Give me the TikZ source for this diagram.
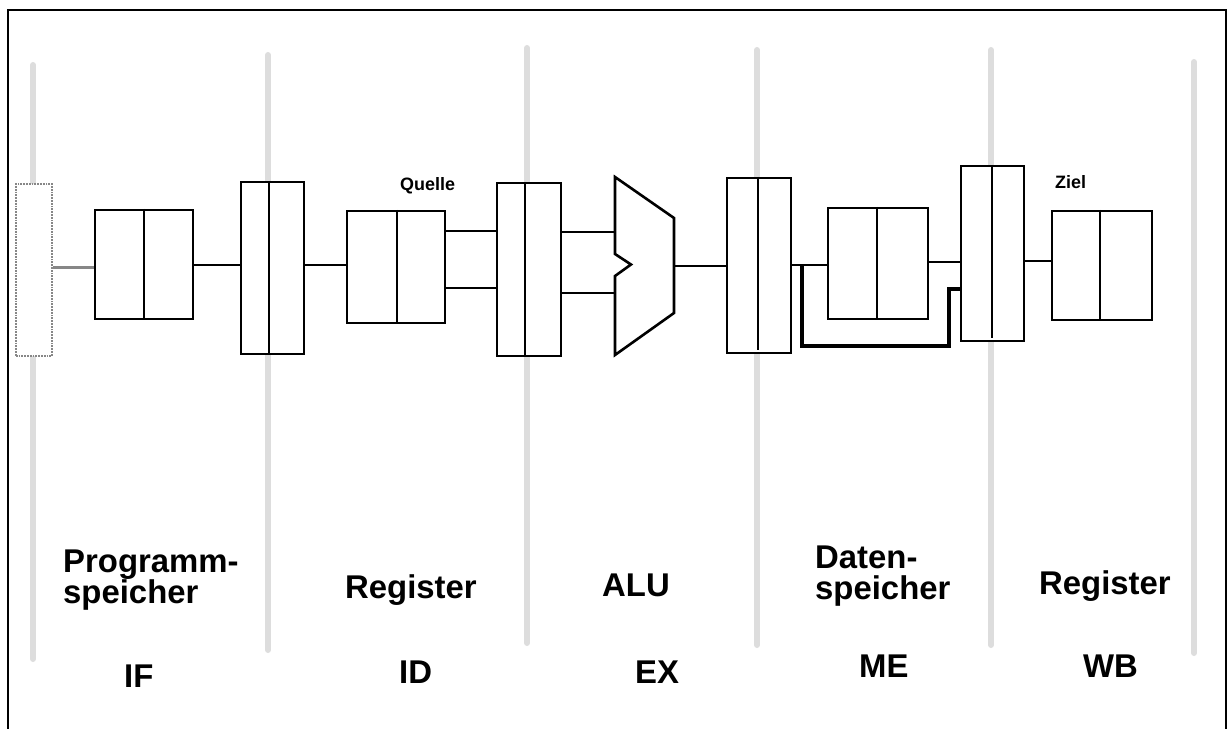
\documentclass[tikz,border=0pt]{standalone}
\usepackage{fontspec}
\setmainfont{Liberation Sans}
\usetikzlibrary{calc}
\definecolor{stagegray}{RGB}{221,221,221}
\definecolor{memgray}{RGB}{135,135,135}
\tikzset{
  stageline/.style={line width=6bp, draw=stagegray, line cap=round},
  unitbox/.style={draw=black, line width=2bp, inner sep=0pt, anchor=north west, fill=white},
  wire/.style={draw=black, line width=1.7bp},
  fwd/.style={draw=black, line width=3.2bp, line join=miter},
  biglabel/.style={font=\bfseries\fontsize{33}{31}\selectfont, inner sep=0pt, anchor=base west, align=left},
  smalllabel/.style={font=\bfseries\fontsize{18}{20}\selectfont, inner sep=0pt, anchor=base west},
}
\begin{document}
\begin{tikzpicture}[x=1bp,y=-1bp]
\useasboundingbox (0,0) rectangle (1229,729);
% frame
\draw[line width=2.2bp] (8,729) -- (8,10) -- (1226,10) -- (1226,729);
% stage separators
\draw[stageline] (33,65) -- (33,659);
\draw[stageline] (268,55) -- (268,650);
\draw[stageline] (527,48) -- (527,643);
\draw[stageline] (757,50) -- (757,645);
\draw[stageline] (991,50) -- (991,645);
\draw[stageline] (1194,62) -- (1194,653);
% program memory (grey box)
\node[unitbox, draw=memgray, line width=1.8bp, densely dotted, minimum width=36bp, minimum height=172bp] (m0) at (15,183) {};
% units
\node[unitbox, minimum width=98bp, minimum height=109bp] (b1) at (94,209) {};
\draw[wire] (144,209) -- (144,318);
\node[unitbox, minimum width=63bp, minimum height=172bp] (r1) at (240,181) {};
\draw[wire] (269,181) -- (269,353);
\node[unitbox, minimum width=98bp, minimum height=112bp] (b2) at (346,210) {};
\draw[wire] (397,210) -- (397,322);
\node[unitbox, minimum width=64bp, minimum height=173bp] (r2) at (496,182) {};
\draw[wire] (525,182) -- (525,355);
\node[unitbox, minimum width=64bp, minimum height=175bp] (r3) at (726,177) {};
\draw[wire] (758,177) -- (758,350);
\node[unitbox, minimum width=100bp, minimum height=111bp] (b3) at (827,207) {};
\draw[wire] (877,207) -- (877,318);
\node[unitbox, minimum width=63bp, minimum height=175bp] (r4) at (960,165) {};
\draw[wire] (992,165) -- (992,338);
\node[unitbox, minimum width=100bp, minimum height=109bp] (b4) at (1051,210) {};
\draw[wire] (1100,210) -- (1100,319);
% ALU
\draw[line width=2.6bp, line join=miter] (615,177) -- (674,218) -- (674,313) -- (615,355) -- (615,276) -- (631,264.5) -- (615,254) -- cycle;
\coordinate (aluinA) at (615,232);
\coordinate (aluinB) at (615,293);
\coordinate (aluout) at (674,266);
% connectors
\draw[draw=memgray, line width=3bp] ([yshift=2bp]m0.east) -- ([yshift=2bp]m0.east -| b1.west);
\draw[wire] ([yshift=-0.5bp]b1.east) -- ([yshift=-0.5bp]b1.east -| r1.west);
\draw[wire] ([yshift=3bp]r1.east) -- ([yshift=3bp]r1.east -| b2.west);
\draw[wire] ([yshift=36bp]b2.east) -- ([yshift=36bp]b2.east -| r2.west);
\draw[wire] ([yshift=-21bp]b2.east) -- ([yshift=-21bp]b2.east -| r2.west);
\draw[wire] (r2.east |- aluinA) -- (aluinA);
\draw[wire] (r2.east |- aluinB) -- (aluinB);
\draw[wire] (aluout) -- (aluout -| r3.west);
\draw[wire] ([yshift=0.5bp]r3.east) -- ([yshift=0.5bp]r3.east -| b3.west);
\coordinate (fwdstart) at (802,264);
\coordinate (fwdend) at (960,289);
\draw[fwd] (fwdstart) -- (802,346) -- (949,346) -- (949,289) -- (fwdend);
\draw[wire] ([yshift=1.5bp]b3.east) -- ([yshift=1.5bp]b3.east -| r4.west);
\draw[wire] ([yshift=-7.5bp]r4.east) -- ([yshift=-7.5bp]r4.east -| b4.west);
% small labels
\node[smalllabel] (quelle) at (400,191) {Quelle};
\node[smalllabel] (ziel) at (1055,189) {Ziel};
% unit labels (multi-line nodes: base = last line)
\node[biglabel] (lprog) at (63,603) {Programm-\\speicher};
\node[biglabel] (lreg1) at (345,598) {Register};
\node[biglabel] (lalu) at (602,596) {ALU};
\node[biglabel] (ldat) at (815,599) {Daten-\\speicher};
\node[biglabel] (lreg2) at (1039,594) {Register};
% stage labels
\node[biglabel] (sif) at (124,687) {IF};
\node[biglabel] (sid) at (399,683) {ID};
\node[biglabel] (sex) at (635,683) {EX};
\node[biglabel] (sme) at (859,677) {ME};
\node[biglabel] (swb) at (1083,677) {WB};
\end{tikzpicture}
\end{document}
